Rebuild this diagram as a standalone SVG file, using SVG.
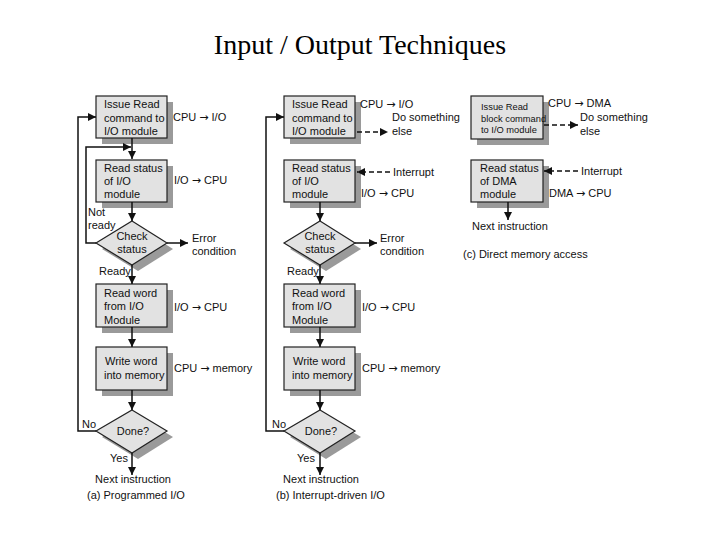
<svg xmlns="http://www.w3.org/2000/svg" width="720" height="540" viewBox="0 0 720 540">
<defs>
<style>
.box{fill:#e2e2e2;stroke:#222;stroke-width:1.2}
.sh{fill:#9a9a9a;stroke:none}
.t{font-family:"Liberation Sans",Arial,sans-serif;font-size:11px;fill:#111}
.ts{font-family:"Liberation Sans",Arial,sans-serif;font-size:9.3px;fill:#111}
.ar{font-family:"DejaVu Sans",sans-serif;font-size:11px}
.c{text-anchor:middle}
.ln{fill:none;stroke:#111;stroke-width:1.5}
.dash{fill:none;stroke:#111;stroke-width:1.5;stroke-dasharray:5,3}
.title{font-family:"Liberation Serif","Times New Roman",serif;font-size:28px;fill:#000}
</style>
<marker id="ah" markerUnits="userSpaceOnUse" markerWidth="9" markerHeight="8" refX="8" refY="4" orient="auto">
<path d="M0,0 L8,4 L0,8 z" fill="#111"/>
</marker>
</defs>
<rect width="720" height="540" fill="#fff"/>
<text class="title" x="360" y="54" text-anchor="middle">Input / Output Techniques</text>

<!-- (a) Programmed I/O -->
<g id="a-issue">
<rect class="sh" x="102" y="102" width="71" height="42"/>
<rect class="box" x="96" y="96" width="71" height="42"/>
<text class="t" x="104" y="108">Issue Read</text>
<text class="t" x="104" y="122">command to</text>
<text class="t" x="104" y="135">I/O module</text>
</g>
<g id="a-readstatus">
<rect class="sh" x="102" y="166" width="71" height="42"/>
<rect class="box" x="96" y="160" width="71" height="42"/>
<text class="t" x="104" y="172">Read status</text>
<text class="t" x="104" y="185">of I/O</text>
<text class="t" x="104" y="198">module</text>
</g>
<g id="a-check">
<polygon class="sh" points="138,227 173,249 138,271 102,249"/>
<polygon class="box" points="132,221 167,243 132,265 96,243"/>
<text class="t c" x="132" y="240">Check</text>
<text class="t c" x="132" y="253">status</text>
</g>
<g id="a-readword">
<rect class="sh" x="102" y="290" width="71" height="43"/>
<rect class="box" x="96" y="284" width="71" height="43"/>
<text class="t" x="104" y="297">Read word</text>
<text class="t" x="104" y="310">from I/O</text>
<text class="t" x="104" y="324">Module</text>
</g>
<g id="a-write">
<rect class="sh" x="102" y="353" width="71" height="43"/>
<rect class="box" x="96" y="347" width="71" height="43"/>
<text class="t" x="105" y="365">Write word</text>
<text class="t" x="104" y="379">into memory</text>
</g>
<g id="a-done">
<polygon class="sh" points="138,416 173,437 138,459 102,437"/>
<polygon class="box" points="132,410 167,431 132,453 96,431"/>
<text class="t c" x="133" y="435">Done?</text>
</g>

<!-- (b) Interrupt-driven I/O -->
<g id="b-issue">
<rect class="sh" x="290" y="102" width="71" height="42"/>
<rect class="box" x="284" y="96" width="71" height="42"/>
<text class="t" x="292" y="108">Issue Read</text>
<text class="t" x="292" y="122">command to</text>
<text class="t" x="292" y="135">I/O module</text>
</g>
<g id="b-readstatus">
<rect class="sh" x="290" y="166" width="71" height="42"/>
<rect class="box" x="284" y="160" width="71" height="42"/>
<text class="t" x="292" y="172">Read status</text>
<text class="t" x="292" y="185">of I/O</text>
<text class="t" x="292" y="198">module</text>
</g>
<g id="b-check">
<polygon class="sh" points="326,227 361,249 326,271 290,249"/>
<polygon class="box" points="320,221 355,243 320,265 284,243"/>
<text class="t c" x="320" y="240">Check</text>
<text class="t c" x="320" y="253">status</text>
</g>
<g id="b-readword">
<rect class="sh" x="290" y="290" width="71" height="43"/>
<rect class="box" x="284" y="284" width="71" height="43"/>
<text class="t" x="292" y="297">Read word</text>
<text class="t" x="292" y="310">from I/O</text>
<text class="t" x="292" y="324">Module</text>
</g>
<g id="b-write">
<rect class="sh" x="290" y="353" width="71" height="43"/>
<rect class="box" x="284" y="347" width="71" height="43"/>
<text class="t" x="293" y="365">Write word</text>
<text class="t" x="292" y="379">into memory</text>
</g>
<g id="b-done">
<polygon class="sh" points="326,416 361,437 326,459 290,437"/>
<polygon class="box" points="320,410 355,431 320,453 284,431"/>
<text class="t c" x="321" y="435">Done?</text>
</g>

<!-- (c) Direct memory access -->
<g id="c-issue">
<rect class="sh" x="477" y="102" width="72" height="43"/>
<rect class="box" x="471" y="96" width="72" height="43"/>
<text class="ts" x="481" y="110">Issue Read</text>
<text class="ts" x="481" y="122">block command</text>
<text class="ts" x="481" y="133">to I/O module</text>
</g>
<g id="c-readstatus">
<rect class="sh" x="477" y="166" width="72" height="42"/>
<rect class="box" x="471" y="160" width="72" height="42"/>
<text class="t" x="480" y="172">Read status</text>
<text class="t" x="480" y="185">of DMA</text>
<text class="t" x="480" y="198">module</text>
</g>

<g id="connectors">
<!-- (a) -->
<line class="ln" x1="132" y1="138" x2="132" y2="159" marker-end="url(#ah)"/>
<polyline class="ln" points="96,243 86,243 86,147 131,147" marker-end="url(#ah)"/>
<line class="ln" x1="132" y1="202" x2="132" y2="221" marker-end="url(#ah)"/>
<line class="ln" x1="167" y1="243" x2="188" y2="243" marker-end="url(#ah)"/>
<line class="ln" x1="132" y1="265" x2="132" y2="284" marker-end="url(#ah)"/>
<line class="ln" x1="132" y1="327" x2="132" y2="347" marker-end="url(#ah)"/>
<line class="ln" x1="132" y1="390" x2="132" y2="410" marker-end="url(#ah)"/>
<line class="ln" x1="132" y1="453" x2="132" y2="475" marker-end="url(#ah)"/>
<polyline class="ln" points="96,431 78,431 78,117 96,117" marker-end="url(#ah)"/>
<!-- (b) -->
<line class="dash" x1="357" y1="132" x2="388" y2="132" marker-end="url(#ah)"/>
<line class="dash" x1="390" y1="172" x2="357" y2="172" marker-end="url(#ah)"/>
<line class="ln" x1="320" y1="202" x2="320" y2="221" marker-end="url(#ah)"/>
<line class="ln" x1="355" y1="243" x2="377" y2="243" marker-end="url(#ah)"/>
<line class="ln" x1="320" y1="265" x2="320" y2="284" marker-end="url(#ah)"/>
<line class="ln" x1="320" y1="327" x2="320" y2="347" marker-end="url(#ah)"/>
<line class="ln" x1="320" y1="390" x2="320" y2="410" marker-end="url(#ah)"/>
<line class="ln" x1="320" y1="453" x2="320" y2="475" marker-end="url(#ah)"/>
<polyline class="ln" points="284,431 266,431 266,117 284,117" marker-end="url(#ah)"/>
<!-- (c) -->
<line class="dash" x1="544" y1="125" x2="578" y2="125" marker-end="url(#ah)"/>
<line class="dash" x1="578" y1="171" x2="544" y2="171" marker-end="url(#ah)"/>
<line class="ln" x1="508" y1="202" x2="508" y2="220" marker-end="url(#ah)"/>
</g>

<g id="labels">
<!-- (a) -->
<text class="t" x="173" y="121">CPU <tspan class="ar">→</tspan> I/O</text>
<text class="t" x="174" y="184">I/O <tspan class="ar">→</tspan> CPU</text>
<text class="t" x="88" y="216">Not</text>
<text class="t" x="88" y="229">ready</text>
<text class="t" x="192" y="242">Error</text>
<text class="t" x="192" y="255">condition</text>
<text class="t" x="99" y="275">Ready</text>
<text class="t" x="174" y="311">I/O <tspan class="ar">→</tspan> CPU</text>
<text class="t" x="174" y="372">CPU <tspan class="ar">→</tspan> memory</text>
<text class="t" x="82" y="428">No</text>
<text class="t" x="110" y="462">Yes</text>
<text class="t c" x="133" y="483">Next instruction</text>
<text class="t" x="87" y="499">(a) Programmed I/O</text>
<!-- (b) -->
<text class="t" x="360" y="108">CPU <tspan class="ar">→</tspan> I/O</text>
<text class="t" x="392" y="121">Do something</text>
<text class="t" x="392" y="135">else</text>
<text class="t" x="393" y="176">Interrupt</text>
<text class="t" x="361" y="197">I/O <tspan class="ar">→</tspan> CPU</text>
<text class="t" x="380" y="242">Error</text>
<text class="t" x="380" y="255">condition</text>
<text class="t" x="287" y="275">Ready</text>
<text class="t" x="362" y="311">I/O <tspan class="ar">→</tspan> CPU</text>
<text class="t" x="362" y="372">CPU <tspan class="ar">→</tspan> memory</text>
<text class="t" x="272" y="428">No</text>
<text class="t" x="297" y="462">Yes</text>
<text class="t c" x="321" y="483">Next instruction</text>
<text class="t" x="276" y="499">(b) Interrupt-driven I/O</text>
<!-- (c) -->
<text class="t" x="548" y="107">CPU <tspan class="ar">→</tspan> DMA</text>
<text class="t" x="580" y="121">Do something</text>
<text class="t" x="580" y="135">else</text>
<text class="t" x="581" y="175">Interrupt</text>
<text class="t" x="549" y="197">DMA <tspan class="ar">→</tspan> CPU</text>
<text class="t" x="472" y="230">Next instruction</text>
<text class="t" x="463" y="258">(c) Direct memory access</text>
</g>
</svg>
